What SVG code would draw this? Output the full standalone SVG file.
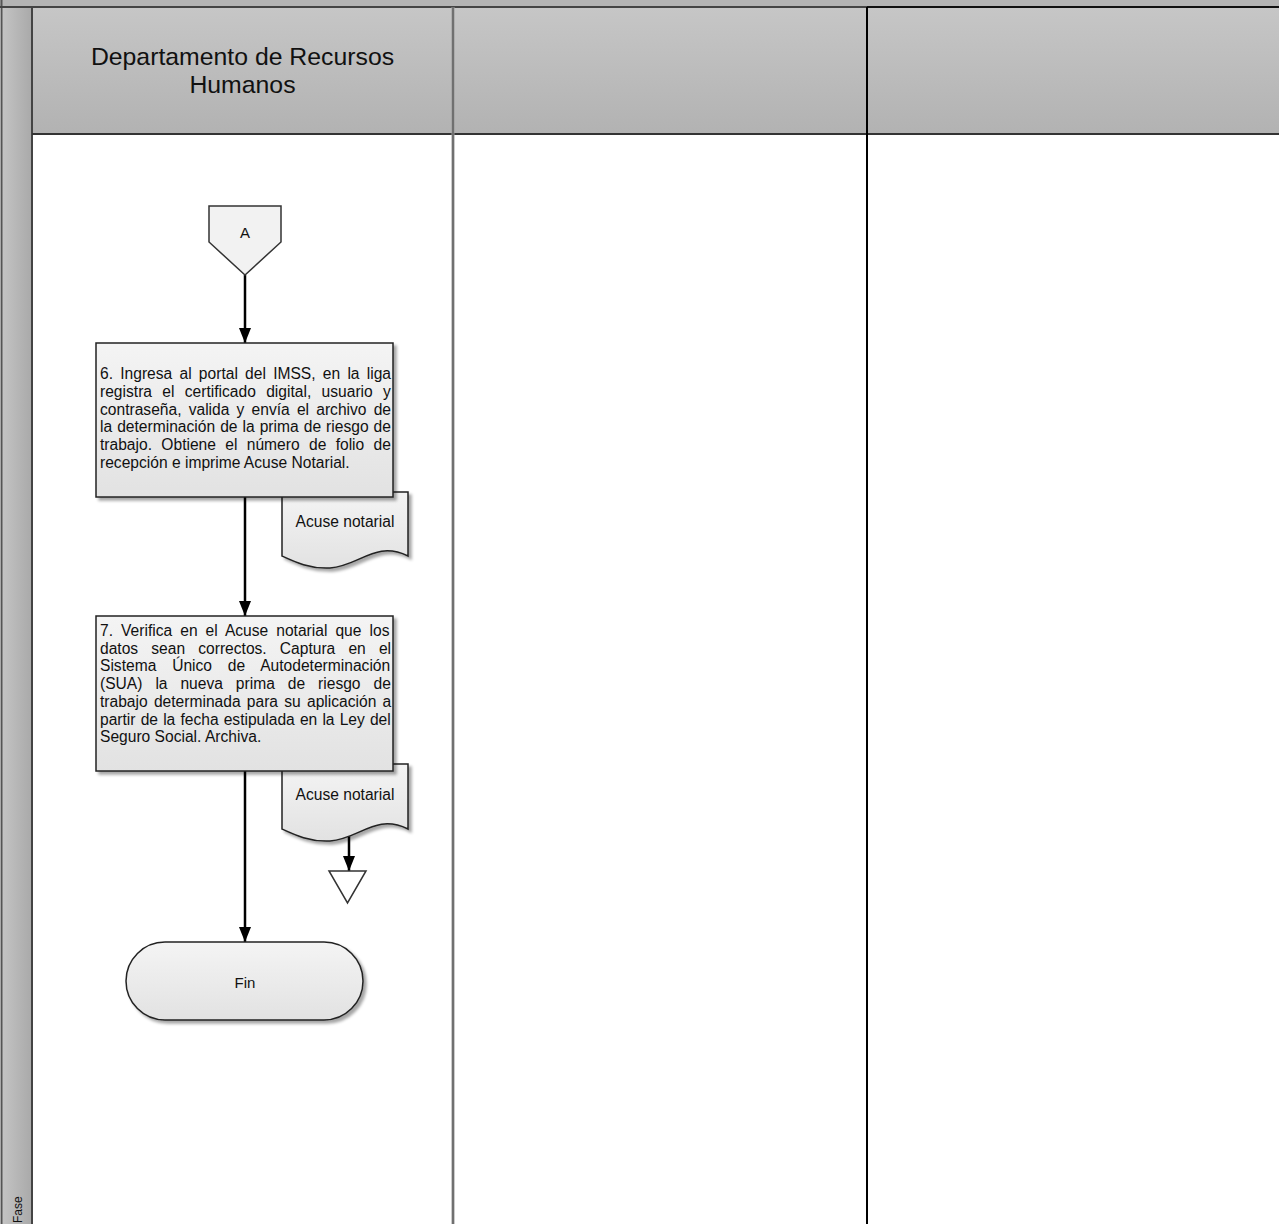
<svg xmlns="http://www.w3.org/2000/svg" width="1279" height="1224" viewBox="0 0 1279 1224">
<defs>
<linearGradient id="hdr" x1="0" y1="0" x2="0" y2="1"><stop offset="0" stop-color="#c6c6c6"/><stop offset="1" stop-color="#b2b2b2"/></linearGradient>
<linearGradient id="strip" x1="0" y1="0" x2="1" y2="0"><stop offset="0" stop-color="#c4c4c4"/><stop offset="1" stop-color="#a9a9a9"/></linearGradient>
<linearGradient id="box" x1="0" y1="0" x2="0" y2="1"><stop offset="0" stop-color="#f4f4f4"/><stop offset="1" stop-color="#e2e2e2"/></linearGradient>
<filter id="sh" x="-10%" y="-10%" width="130%" height="130%"><feDropShadow dx="3" dy="3" stdDeviation="1.8" flood-color="#000" flood-opacity="0.35"/></filter>
<marker id="arr" viewBox="0 0 15 12" refX="15" refY="6" markerWidth="15" markerHeight="12" markerUnits="userSpaceOnUse" orient="auto"><path d="M0,0 L15,6 L0,12 z" fill="#000"/></marker>
<style>
.t{font-family:"Liberation Sans",Arial,sans-serif;fill:#111}
.p{font-size:15.6px}
.shape{fill:url(#box);stroke:#222;stroke-width:1.5;filter:url(#sh)}
.conn{stroke:#000;stroke-width:2.5;fill:none;marker-end:url(#arr)}
</style>
</defs>
<rect width="1279" height="1224" fill="#fff"/>
<g id="frame">
<rect x="0" y="0" width="1279" height="7" fill="#b4b4b4"/>
<rect x="2" y="7" width="30" height="1217" fill="url(#strip)"/>
<rect x="32" y="8" width="1247" height="126" fill="url(#hdr)"/>
<line x1="1.5" y1="0" x2="1.5" y2="1224" stroke="#555" stroke-width="2"/>
<line x1="0" y1="7" x2="1279" y2="7" stroke="#444" stroke-width="2"/>
<line x1="867" y1="7" x2="1279" y2="7" stroke="#111" stroke-width="2"/>
<line x1="32" y1="7" x2="32" y2="1224" stroke="#444" stroke-width="2"/>
<line x1="32" y1="134" x2="1279" y2="134" stroke="#333" stroke-width="2"/>
<line x1="453" y1="7" x2="453" y2="1224" stroke="#9a9a9a" stroke-width="3"/>
<line x1="453" y1="7" x2="453" y2="1224" stroke="#555" stroke-width="1.2"/>
<line x1="867" y1="7" x2="867" y2="1224" stroke="#000" stroke-width="2"/>
<text class="t" transform="translate(22,1223) rotate(-90)" font-family="'Open Sans',sans-serif" font-size="12" fill="#222">Fase</text>
</g>
<g id="lane1-header">
<text class="t" x="242.5" y="65" font-size="24.8" text-anchor="middle">Departamento de Recursos</text>
<text class="t" x="242.5" y="93" font-size="24.8" text-anchor="middle">Humanos</text>
</g>
<g id="connectors">
<line class="conn" x1="245" y1="275" x2="245" y2="343"/>
<line class="conn" x1="245" y1="497" x2="245" y2="616"/>
<line class="conn" x1="245" y1="771" x2="245" y2="942"/>
<line class="conn" x1="349" y1="834" x2="349" y2="871"/>
</g>
<g id="connector-A">
<polygon points="209,206 281,206 281,242 245,275 209,242" fill="#f2f2f2" stroke="#333" stroke-width="1.5"/>
<text class="t" x="245" y="238" font-size="15" text-anchor="middle">A</text>
</g>
<g id="doc1">
<path class="shape" d="M282,492 H408 V556 C375,540 360,566 330,568 C310,569 295,562 282,556 Z"/>
<text class="t p" x="345" y="527" text-anchor="middle">Acuse notarial</text>
</g>
<g id="step6">
<rect class="shape" x="96" y="343" width="297" height="154"/>
<text class="t p" x="100" y="379" word-spacing="2.9">6. Ingresa al portal del IMSS, en la liga</text>
<text class="t p" x="100" y="396.8" word-spacing="6.0">registra el certificado digital, usuario y</text>
<text class="t p" x="100" y="414.6" word-spacing="2.85">contraseña, valida y envía el archivo de</text>
<text class="t p" x="100" y="432.4" word-spacing="0.7">la determinación de la prima de riesgo de</text>
<text class="t p" x="100" y="450.2" word-spacing="5.0">trabajo. Obtiene el número de folio de</text>
<text class="t p" x="100" y="468">recepción e imprime Acuse Notarial.</text>
</g>
<g id="doc2">
<path class="shape" d="M282,764 H408 V829 C375,813 360,839 330,841 C310,842 295,835 282,829 Z"/>
<text class="t p" x="345" y="800" text-anchor="middle">Acuse notarial</text>
</g>
<g id="step7">
<rect class="shape" x="96" y="616" width="297" height="155"/>
<text class="t p" x="100" y="636" word-spacing="3.7">7. Verifica en el Acuse notarial que los</text>
<text class="t p" x="100" y="653.7" word-spacing="8.8">datos sean correctos. Captura en el</text>
<text class="t p" x="100" y="671.4" word-spacing="11.5">Sistema Único de Autodeterminación</text>
<text class="t p" x="100" y="689.1" word-spacing="8.6">(SUA) la nueva prima de riesgo de</text>
<text class="t p" x="100" y="706.8" word-spacing="1.9">trabajo determinada para su aplicación a</text>
<text class="t p" x="100" y="724.5" word-spacing="0.8">partir de la fecha estipulada en la Ley del</text>
<text class="t p" x="100" y="742.2">Seguro Social. Archiva.</text>
</g>
<g id="archive">
<polygon points="329,871 366,871 347.5,903" fill="#fff" stroke="#333" stroke-width="1.5"/>
</g>
<g id="fin">
<rect class="shape" x="126" y="942" width="237" height="78" rx="39" ry="39"/>
<text class="t" x="245" y="988" font-size="15" text-anchor="middle">Fin</text>
</g>
</svg>
